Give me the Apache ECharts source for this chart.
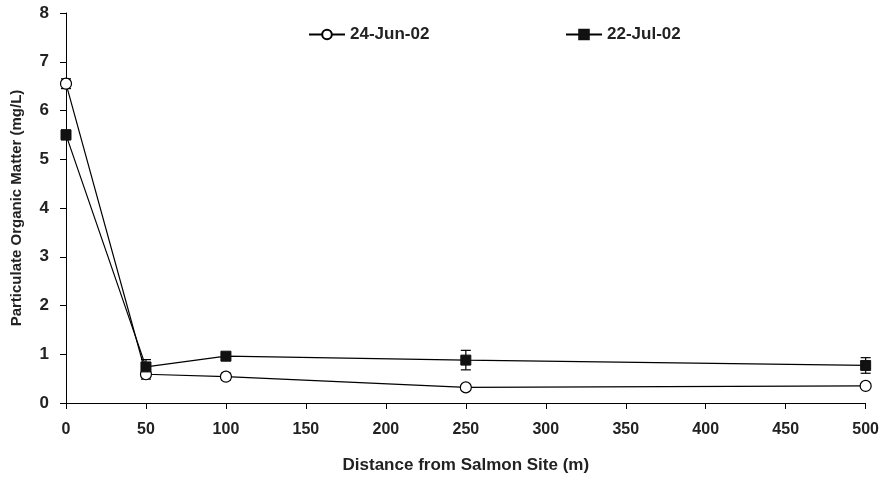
<!DOCTYPE html>
<html>
<head>
<meta charset="utf-8">
<script src="https://cdn.jsdelivr.net/npm/echarts@6/dist/echarts.min.js"></script>
<style>
  html, body { margin: 0; padding: 0; background: #fff; }
  #box { width: 882px; height: 479px; }
</style>
</head>
<body>
<div id="box"></div>
<script>
var distances = [0, 50, 100, 250, 500];
var jun = [6.55, 0.59, 0.54, 0.32, 0.35];
var junErr = [0.1, 0.1, 0.07, 0.04, 0.05];
var jul = [5.5, 0.74, 0.96, 0.88, 0.77];
var julErr = [0.1, 0.15, 0.05, 0.2, 0.16];
var yTicks = [0, 1, 2, 3, 4, 5, 6, 7, 8];

function pairs(vals) {
    return distances.map(function (d, i) { return [d, vals[i]]; });
}
function errRows(vals, errs) {
    return distances.map(function (d, i) { return [d, vals[i] - errs[i], vals[i] + errs[i]]; });
}

function errBar(params, api) {
    var lo = api.coord([api.value(0), api.value(1)]);
    var hi = api.coord([api.value(0), api.value(2)]);
    var w = 5;
    var st = { stroke: '#000', lineWidth: 1.2 };
    return {
        type: 'group',
        children: [
            { type: 'line', shape: { x1: lo[0], y1: lo[1], x2: hi[0], y2: hi[1] }, style: st },
            { type: 'line', shape: { x1: lo[0] - w, y1: lo[1], x2: lo[0] + w, y2: lo[1] }, style: st },
            { type: 'line', shape: { x1: hi[0] - w, y1: hi[1], x2: hi[0] + w, y2: hi[1] }, style: st }
        ]
    };
}

var font = 'Liberation Sans, Arial, sans-serif';
var chart = echarts.init(document.getElementById('box'));
var option = {
    animation: false,
    textStyle: { fontFamily: font },
    grid: { left: 66, right: 16, top: 13, bottom: 74 },
    legend: [
        {
            left: 303, top: 21, itemWidth: 36, itemHeight: 12, itemGap: 6,
            data: ['24-Jun-02'],
            textStyle: { fontFamily: font, fontSize: 17, fontWeight: 'bold', color: '#222' }
        },
        {
            left: 560, top: 21, itemWidth: 36, itemHeight: 12, itemGap: 6,
            data: ['22-Jul-02'],
            textStyle: { fontFamily: font, fontSize: 17, fontWeight: 'bold', color: '#222' }
        }
    ],
    xAxis: {
        type: 'value',
        min: 0, max: 500, interval: 50,
        name: 'Distance from Salmon Site (m)',
        nameLocation: 'middle',
        nameGap: 54,
        nameTextStyle: { fontFamily: font, fontSize: 17, fontWeight: 'bold', color: '#222' },
        axisLine: { show: true, lineStyle: { color: '#000', width: 1 } },
        axisTick: { show: true, length: 6, lineStyle: { color: '#000' } },
        axisLabel: { fontFamily: font, fontSize: 16, fontWeight: 'bold', color: '#222', margin: 19 },
        splitLine: { show: false }
    },
    yAxis: {
        type: 'value',
        min: 0, max: 8, interval: 1,
        name: 'Particulate Organic Matter (mg/L)',
        nameLocation: 'middle',
        nameGap: 42,
        nameTextStyle: { fontFamily: font, fontSize: 15, fontWeight: 'bold', color: '#222' },
        axisLine: { show: true, lineStyle: { color: '#000', width: 1 } },
        axisTick: { show: true, length: 6, lineStyle: { color: '#000' } },
        axisLabel: {
            fontFamily: font, fontSize: 17, fontWeight: 'bold', color: '#222', margin: 17,
            formatter: function (v) { return yTicks.indexOf(v) >= 0 ? String(v) : ''; }
        },
        splitLine: { show: false }
    },
    series: [
        {
            name: '24-Jun-02',
            type: 'line',
            data: pairs(jun),
            symbol: 'circle',
            symbolSize: 11,
            z: 4,
            lineStyle: { color: '#000', width: 1.2 },
            itemStyle: { color: '#fff', borderColor: '#000', borderWidth: 1.2 }
        },
        {
            name: '22-Jul-02',
            type: 'line',
            data: pairs(jul),
            symbol: 'rect',
            symbolSize: 10,
            z: 4,
            lineStyle: { color: '#000', width: 1.2 },
            itemStyle: { color: '#111', borderColor: '#111', borderWidth: 1 }
        },
        {
            type: 'custom',
            renderItem: errBar,
            data: errRows(jun, junErr),
            encode: { x: 0, y: [1, 2] },
            z: 3,
            silent: true
        },
        {
            type: 'custom',
            renderItem: errBar,
            data: errRows(jul, julErr),
            encode: { x: 0, y: [1, 2] },
            z: 3,
            silent: true
        }
    ]
};
chart.setOption(option);
</script>
</body>
</html>
